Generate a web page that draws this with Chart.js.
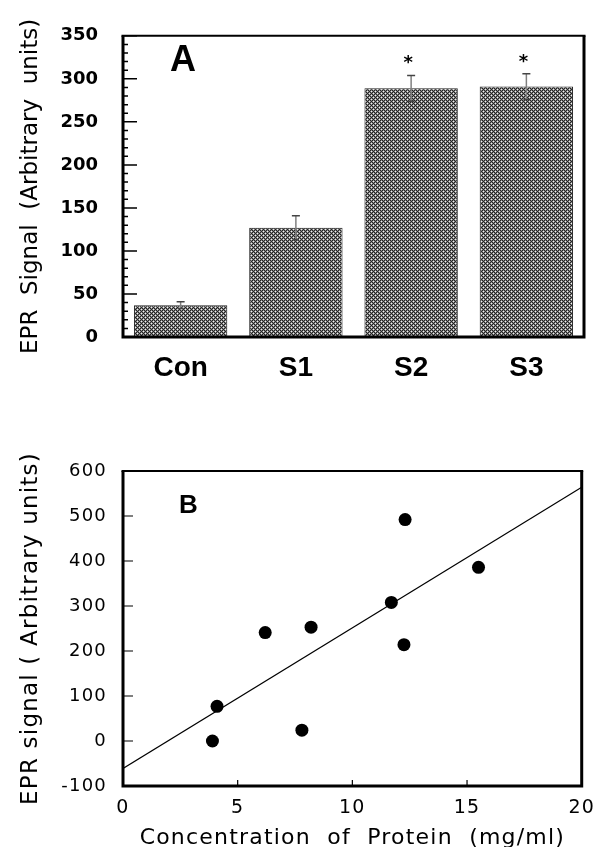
<!DOCTYPE html>
<html><head><meta charset="utf-8">
<script src="https://cdn.jsdelivr.net/npm/chart.js@4.4.1/dist/chart.umd.min.js"></script>
<style>
html,body{margin:0;padding:0;background:#fff;}
body{width:606px;height:847px;position:relative;overflow:hidden;}
canvas{position:absolute;left:0;}
#c1{top:0;} #c2{top:430px;}
</style></head><body>
<canvas id="c1" width="606" height="430"></canvas>
<canvas id="c2" width="606" height="417"></canvas>
<script>
// ---- Panel A data ----
const barCategories = ['Con', 'S1', 'S2', 'S3'];
const barValues = [37, 127, 289, 291];
const barErrors = [4, 14, 15, 15];
const barSignificant = [false, false, true, true];
const barYTicks = [0, 50, 100, 150, 200, 250, 300, 350];
const barYTickLabels = ['0', '50', '100', '150', '200', '250', '300', '350'];

// ---- Panel B data ----
const scatterX = [3.9, 4.1, 6.2, 8.2, 7.8, 11.7, 12.3, 12.25, 15.5];
const scatterY = [0, 77, 241, 253, 24, 308, 492, 214, 386];
const fitX = [0, 20];
const fitY = [-61, 564];
const scatterXTicks = [0, 5, 10, 15, 20];
const scatterXTickLabels = ['0', '5', '10', '15', '20'];
const scatterYTicks = [-100, 0, 100, 200, 300, 400, 500, 600];
const scatterYTickLabels = ['-100', '0', '100', '200', '300', '400', '500', '600'];

function makePattern(ctx) {
  const c = document.createElement('canvas');
  c.width = 4; c.height = 4;
  const x = c.getContext('2d');
  const img = x.createImageData(4, 4);
  for (let j = 0; j < 4; j++) for (let i = 0; i < 4; i++) {
    let v;
    if ((i === 1 && j === 1) || (i === 3 && j === 3)) v = 240;
    else if ((i + j) % 2 === 1) v = 135;
    else v = 35;
    const k = (j * 4 + i) * 4;
    img.data[k] = v; img.data[k + 1] = v; img.data[k + 2] = v; img.data[k + 3] = 255;
  }
  x.putImageData(img, 0, 0);
  return ctx.createPattern(c, 'repeat');
}

function spacingPlugin(px) {
  return {
    id: 'spacing',
    beforeUpdate(chart) { chart.ctx.letterSpacing = px; },
    beforeDraw(chart) { chart.ctx.letterSpacing = px; }
  };
}

function drawFrame(ctx, a) {
  ctx.save();
  ctx.strokeStyle = '#000';
  ctx.lineWidth = 3;
  ctx.beginPath();
  ctx.moveTo(a.left, a.top); ctx.lineTo(a.left, a.bottom);
  ctx.lineTo(a.right, a.bottom); ctx.lineTo(a.right, a.top);
  ctx.stroke();
  ctx.lineWidth = 2;
  ctx.beginPath(); ctx.moveTo(a.left - 1.5, a.top); ctx.lineTo(a.right + 1.5, a.top); ctx.stroke();
  ctx.restore();
}

const panelA = {
  id: 'panelA',
  afterDatasetsDraw(chart) {
    const {ctx, scales: {x, y}} = chart;
    ctx.save();
    ctx.letterSpacing = '0px';
    barValues.forEach((v, i) => {
      const px = x.getPixelForValue(i);
      const top = y.getPixelForValue(v + barErrors[i]);
      const bot = y.getPixelForValue(v - barErrors[i]);
      ctx.strokeStyle = '#808080'; ctx.lineWidth = 1.5;
      ctx.beginPath(); ctx.moveTo(px, top); ctx.lineTo(px, bot); ctx.stroke();
      ctx.strokeStyle = '#444'; ctx.lineWidth = 1.5;
      ctx.beginPath();
      ctx.moveTo(px - 4, top); ctx.lineTo(px + 4, top);
      ctx.moveTo(px - 3, bot); ctx.lineTo(px + 3, bot);
      ctx.stroke();
      if (barSignificant[i]) {
        ctx.fillStyle = '#000';
        ctx.font = 'bold 18px "DejaVu Sans"';
        ctx.textAlign = 'center'; ctx.textBaseline = 'alphabetic';
        ctx.fillText('*', px - 3, top - 7);
      }
    });
    ctx.restore();
  },
  afterDraw(chart) {
    const {ctx, chartArea: a, scales: {y}} = chart;
    drawFrame(ctx, a);
    ctx.save();
    ctx.strokeStyle = '#000';
    ctx.lineWidth = 1.5;
    ctx.beginPath();
    for (let v = y.min; v <= y.max; v += 10) {
      const py = y.getPixelForValue(v);
      const major = barYTicks.includes(v);
      ctx.moveTo(a.left, py); ctx.lineTo(a.left + (major ? 14 : 5), py);
    }
    ctx.stroke();
    ctx.letterSpacing = '0px';
    ctx.fillStyle = '#000';
    ctx.font = 'bold 36px "Liberation Sans"';
    ctx.textAlign = 'left'; ctx.textBaseline = 'alphabetic';
    ctx.fillText('A', a.left + 47, a.top + 35);
    ctx.restore();
  }
};

const panelB = {
  id: 'panelB',
  afterDraw(chart) {
    const {ctx, chartArea: a, scales: {x, y}} = chart;
    drawFrame(ctx, a);
    ctx.save();
    ctx.strokeStyle = '#000';
    ctx.lineWidth = 1.2;
    ctx.beginPath();
    scatterYTicks.forEach(v => {
      const py = y.getPixelForValue(v);
      ctx.moveTo(a.left, py); ctx.lineTo(a.left + 10, py);
    });
    scatterXTicks.forEach(v => {
      const px = x.getPixelForValue(v);
      ctx.moveTo(px, a.bottom); ctx.lineTo(px, a.bottom - 6);
    });
    ctx.stroke();
    ctx.letterSpacing = '0px';
    ctx.fillStyle = '#000';
    ctx.font = 'bold 26px "Liberation Sans"';
    ctx.textAlign = 'left'; ctx.textBaseline = 'alphabetic';
    ctx.fillText('B', a.left + 56, a.top + 42);
    ctx.restore();
  }
};

const ctx1 = document.getElementById('c1').getContext('2d');
new Chart(ctx1, {
  type: 'bar',
  data: {
    labels: barCategories,
    datasets: [{
      data: barValues,
      backgroundColor: makePattern(ctx1),
      borderColor: '#222',
      borderWidth: 1,
      barPercentage: 0.81,
      categoryPercentage: 1.0
    }]
  },
  options: {
    responsive: false,
    animation: false,
    events: [],
    layout: {padding: {left: 0, right: 22, top: 30, bottom: 0}},
    plugins: {legend: {display: false}, tooltip: {enabled: false}},
    scales: {
      x: {
        grid: {display: false, drawTicks: false},
        border: {display: false},
        ticks: {color: '#000', padding: 14, font: {family: 'Liberation Sans', size: 28, weight: 'bold'}},
        afterFit(s) { s.height = 93; }
      },
      y: {
        min: 0, max: 350,
        grid: {display: false, drawTicks: false},
        border: {display: false},
        afterBuildTicks(s) { s.ticks = barYTicks.map(v => ({value: v})); },
        ticks: {
          color: '#000', padding: 25,
          font: {family: 'DejaVu Sans', size: 18, weight: 'bold'},
          callback: (v) => barYTickLabels[barYTicks.indexOf(v)]
        },
        title: {
          display: true, text: 'EPR  Signal  (Arbitrary  units)', color: '#000',
          font: {family: 'DejaVu Sans', size: 23}, padding: {top: 17, bottom: 0}
        },
        afterFit(s) { s.width = 123; }
      }
    }
  },
  plugins: [spacingPlugin('0px'), panelA]
});

const ctx2 = document.getElementById('c2').getContext('2d');
new Chart(ctx2, {
  type: 'scatter',
  data: {
    datasets: [{
      data: scatterX.map((v, i) => ({x: v, y: scatterY[i]})),
      backgroundColor: '#000', borderColor: '#000',
      pointRadius: 6.5, pointHoverRadius: 6.5, borderWidth: 0
    }, {
      type: 'line',
      data: fitX.map((v, i) => ({x: v, y: fitY[i]})),
      borderColor: '#000', borderWidth: 1.2, pointRadius: 0, fill: false
    }]
  },
  options: {
    responsive: false,
    animation: false,
    events: [],
    layout: {padding: {left: 0, right: 15, top: 41, bottom: 0}},
    plugins: {legend: {display: false}, tooltip: {enabled: false}},
    scales: {
      x: {
        type: 'linear', min: 0, max: 20,
        grid: {display: false, drawTicks: false},
        border: {display: false},
        afterBuildTicks(s) { s.ticks = scatterXTicks.map(v => ({value: v})); },
        ticks: {
          color: '#000', padding: 11, maxRotation: 0,
          font: {family: 'DejaVu Sans', size: 19},
          callback: (v) => scatterXTickLabels[scatterXTicks.indexOf(v)]
        },
        title: {
          display: true, text: 'Concentration  of  Protein  (mg/ml)', color: '#000',
          font: {family: 'DejaVu Sans', size: 22}, padding: {top: 0, bottom: -4}
        },
        afterFit(s) { s.height = 61; }
      },
      y: {
        min: -100, max: 600,
        grid: {display: false, drawTicks: false},
        border: {display: false},
        afterBuildTicks(s) { s.ticks = scatterYTicks.map(v => ({value: v})); },
        ticks: {
          color: '#000', padding: 16,
          font: {family: 'DejaVu Sans', size: 18},
          callback: (v) => scatterYTickLabels[scatterYTicks.indexOf(v)]
        },
        title: {
          display: true, text: 'EPR signal ( Arbitrary units)', color: '#000',
          font: {family: 'DejaVu Sans', size: 23}, padding: {top: 17, bottom: 0}
        },
        afterFit(s) { s.width = 123; }
      }
    }
  },
  plugins: [spacingPlugin('1.2px'), panelB]
});
</script>
</body></html>
